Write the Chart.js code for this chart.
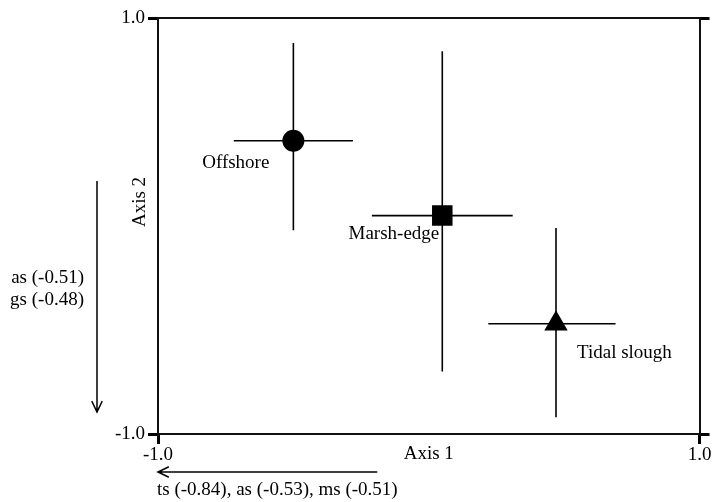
<!DOCTYPE html>
<html lang="en">
<head>
    <meta charset="UTF-8">
    <script src="https://cdn.jsdelivr.net/npm/chart.js"></script>
    <title>Axis 1 / Axis 2</title>
    <style>
        body { margin: 0; background: #fff; }
        .box { width: 714px; height: 502px; position: relative; }
    </style>
</head>
<body>
    <div class="box">
        <canvas id="grafico"></canvas>
    </div>
<script>
    // valores
    var sites = ['Offshore', 'Marsh-edge', 'Tidal slough']
    var axis1 = [-0.50, 0.05, 0.47]
    var axis2 = [0.41, 0.05, -0.47]
    var axis1Low = [-0.72, -0.21, 0.22]
    var axis1High = [-0.28, 0.31, 0.69]
    var axis2Low = [-0.02, -0.70, -0.92]
    var axis2High = [0.88, 0.84, -0.01]
    var tickValues = [-1, 1]
    var axis1Loadings = [['ts', -0.84], ['as', -0.53], ['ms', -0.51]]
    var axis2Loadings = [['as', -0.51], ['gs', -0.48]]

    var fonte = '"Liberation Serif", "Times New Roman", serif'
    var tamanho = 19
    var simbolos = ['circle', 'rect', 'triangle']
    var raios = [11, 14.5, 13.5]
    // deslocamento dos rotulos em px: [dx, dy, alinhamento]
    var rotulos = [[-24, 22, 'right'], [-3, 18, 'right'], [21, 29, 'left']]

    var datasets = [{
        label: 'sites',
        data: sites.map(function (s, i) { return { x: axis1[i], y: axis2[i] } }),
        pointStyle: simbolos,
        pointRadius: raios,
        backgroundColor: '#000',
        borderColor: '#000',
        borderWidth: 0
    }]
    sites.forEach(function (s, i) {
        datasets.push({
            label: s + ' h',
            data: [{ x: axis1Low[i], y: axis2[i] }, { x: axis1High[i], y: axis2[i] }],
            showLine: true, pointRadius: 0, borderColor: '#000', borderWidth: 1.6
        })
        datasets.push({
            label: s + ' v',
            data: [{ x: axis1[i], y: axis2Low[i] }, { x: axis1[i], y: axis2High[i] }],
            showLine: true, pointRadius: 0, borderColor: '#000', borderWidth: 1.6
        })
    })

    function seta(ctx, x1, y1, x2, y2) {
        var ang = Math.atan2(y2 - y1, x2 - x1)
        ctx.beginPath()
        ctx.moveTo(x1, y1)
        ctx.lineTo(x2, y2)
        ctx.moveTo(x2 - 12 * Math.cos(ang - 0.45), y2 - 12 * Math.sin(ang - 0.45))
        ctx.lineTo(x2, y2)
        ctx.lineTo(x2 - 12 * Math.cos(ang + 0.45), y2 - 12 * Math.sin(ang + 0.45))
        ctx.stroke()
    }

    var textos = {
        id: 'textos',
        afterDraw: function (chart) {
            var ctx = chart.ctx
            var sx = chart.scales.x
            var sy = chart.scales.y
            var area = chart.chartArea
            ctx.save()
            ctx.fillStyle = '#000'
            ctx.strokeStyle = '#000'
            ctx.lineWidth = 1.5
            ctx.font = tamanho + 'px ' + fonte
            ctx.textBaseline = 'middle'

            sites.forEach(function (s, i) {
                ctx.textAlign = rotulos[i][2]
                ctx.fillText(s, sx.getPixelForValue(axis1[i]) + rotulos[i][0], sy.getPixelForValue(axis2[i]) + rotulos[i][1])
            })

            // titulos dos eixos
            ctx.textAlign = 'center'
            ctx.fillText('Axis 1', (area.left + area.right) / 2, 454)
            ctx.save()
            ctx.translate(140, 202)
            ctx.rotate(-Math.PI / 2)
            ctx.fillText('Axis 2', 0, 0)
            ctx.restore()

            // setas das cargas
            seta(ctx, 97, 181, 97, 412)
            ctx.textAlign = 'right'
            axis2Loadings.forEach(function (l, i) {
                ctx.fillText(l[0] + ' (' + l[1].toFixed(2) + ')', 84, 278 + i * 22)
            })
            seta(ctx, sx.getPixelForValue(-0.19), 472, sx.getPixelForValue(-1), 472)
            ctx.textAlign = 'left'
            ctx.fillText(axis1Loadings.map(function (l) {
                return l[0] + ' (' + l[1].toFixed(2) + ')'
            }).join(', '), 157, 490)
            ctx.restore()
        }
    }

    function soExtremos(scale) {
        scale.ticks = tickValues.map(function (v) { return { value: v } })
    }
    var tickFont = { family: fonte, size: tamanho }
    var marcas = { drawOnChartArea: false, tickLength: 10, lineWidth: 3, color: '#000' }
    var borda = { display: true, color: '#111', width: 2 }

    var grafico = new Chart(document.getElementById('grafico'), {
        type: 'scatter',
        data: { datasets: datasets },
        options: {
            responsive: true,
            maintainAspectRatio: false,
            animation: false,
            layout: { padding: 0 },
            plugins: { legend: { display: false }, tooltip: { enabled: false } },
            scales: {
                x: {
                    type: 'linear', position: 'bottom', min: -1, max: 1,
                    afterBuildTicks: soExtremos,
                    afterFit: function (s) { s.height = 68 },
                    ticks: { callback: function (v) { return v.toFixed(1) }, font: tickFont, color: '#000', padding: 0, maxRotation: 0, autoSkip: false },
                    grid: marcas, border: borda
                },
                y: {
                    type: 'linear', position: 'left', min: -1, max: 1,
                    afterBuildTicks: soExtremos,
                    afterFit: function (s) { s.width = 158 },
                    ticks: { callback: function (v) { return v.toFixed(1) }, font: tickFont, color: '#000', padding: 3, autoSkip: false },
                    grid: marcas, border: borda
                },
                x2: {
                    type: 'linear', position: 'top', min: -1, max: 1,
                    afterBuildTicks: soExtremos,
                    afterFit: function (s) { s.height = 18 },
                    ticks: { display: false },
                    grid: { display: false }, border: borda
                },
                y2: {
                    type: 'linear', position: 'right', min: -1, max: 1,
                    afterBuildTicks: soExtremos,
                    afterFit: function (s) { s.width = 14 },
                    ticks: { display: false },
                    grid: marcas, border: borda
                }
            }
        },
        plugins: [textos]
    })
</script>
</body>
</html>
